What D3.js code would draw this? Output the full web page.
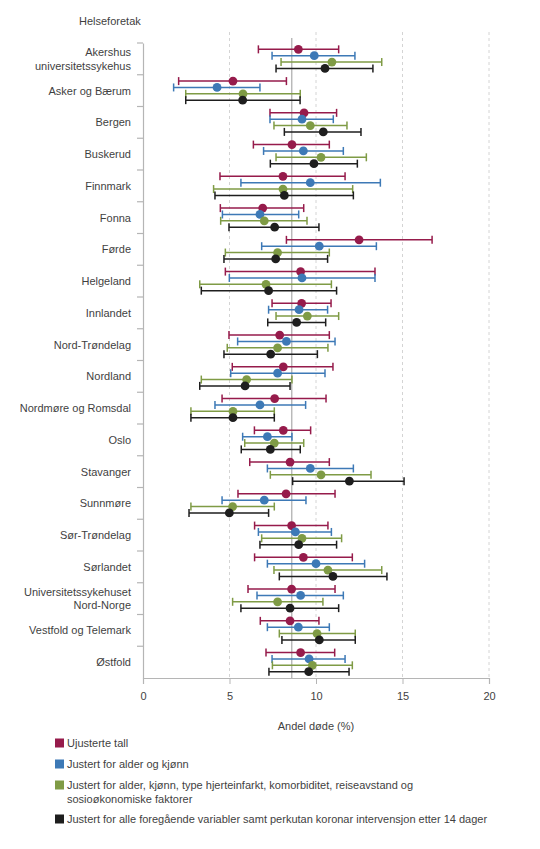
<!DOCTYPE html>
<html>
<head>
<meta charset="utf-8">
<script src="https://cdn.jsdelivr.net/npm/d3@7"></script>
<style>
  html, body { margin: 0; padding: 0; background: #fff; }
  svg { display: block; }
  text { font-family: "Liberation Sans", Arial, sans-serif; }
</style>
</head>
<body>
<script>
const categories = ["Akershus universitetssykehus","Asker og Bærum","Bergen","Buskerud","Finnmark","Fonna","Førde","Helgeland","Innlandet","Nord-Trøndelag","Nordland","Nordmøre og Romsdal","Oslo","Stavanger","Sunnmøre","Sør-Trøndelag","Sørlandet","Universitetssykehuset Nord-Norge","Vestfold og Telemark","Østfold"];
const categoryLines = [["Akershus","universitetssykehus"],["Asker og Bærum"],["Bergen"],["Buskerud"],["Finnmark"],["Fonna"],["Førde"],["Helgeland"],["Innlandet"],["Nord-Trøndelag"],["Nordland"],["Nordmøre og Romsdal"],["Oslo"],["Stavanger"],["Sunnmøre"],["Sør-Trøndelag"],["Sørlandet"],["Universitetssykehuset","Nord-Norge"],["Vestfold og Telemark"],["Østfold"]];

const seriesNames = ["Ujusterte tall","Justert for alder og kjønn","Justert for alder, kjønn, type hjerteinfarkt, komorbiditet, reiseavstand og sosioøkonomiske faktorer","Justert for alle foregående variabler samt perkutan koronar intervensjon etter 14 dager"];
const seriesColors = ["#961b4b","#3d79b6","#7f9b45","#1e1e1e"];

// Ujusterte tall
const unadjVal = [8.98,5.20,9.31,8.61,8.09,6.92,12.49,9.11,9.17,7.90,8.11,7.61,8.11,8.50,8.27,8.59,9.27,8.59,8.50,9.11];
const unadjLo  = [6.67,2.06,7.34,6.38,4.45,4.47,8.29,4.76,7.46,4.97,5.16,4.57,6.44,6.17,5.49,6.45,6.45,6.07,6.78,7.11];
const unadjHi  = [11.31,8.29,11.19,10.77,11.68,9.29,16.71,13.41,10.87,10.77,10.98,10.58,9.69,10.77,11.10,10.69,12.10,11.10,10.17,11.08];
// Justert for alder og kjønn
const ageSexVal = [9.90,4.28,9.19,9.27,9.67,6.76,10.19,9.19,9.02,8.29,7.78,6.76,7.19,9.67,7.01,8.81,10.00,9.11,8.98,9.60];
const ageSexLo  = [7.46,1.77,7.34,6.97,5.66,4.59,6.86,4.99,7.26,5.47,5.07,4.16,5.76,7.19,4.57,6.67,7.19,6.59,7.19,7.46];
const ageSexHi  = [12.25,6.76,11.00,11.58,13.72,9.00,13.49,13.41,10.67,11.10,10.52,9.40,8.61,12.16,9.42,10.89,12.81,11.58,10.77,11.68];
// Justert for alder, kjønn, type hjerteinfarkt, ...
const fullVal = [10.92,5.78,9.67,10.29,8.09,7.01,7.78,7.11,9.50,7.78,5.99,5.20,7.59,10.29,5.18,9.19,10.69,7.78,10.06,9.79];
const fullLo  = [7.98,2.47,7.57,7.69,4.08,4.49,4.76,3.28,7.69,4.87,3.37,2.77,5.88,7.36,2.77,6.86,7.57,5.18,7.88,7.48];
const fullHi  = [13.80,9.09,11.79,12.91,12.12,9.48,10.77,10.89,11.31,10.69,8.61,7.59,9.29,13.18,7.59,11.48,13.80,10.40,12.27,12.10];
// Justert for alle foregående variabler samt PCI
const pciVal = [10.52,5.76,10.42,9.88,8.17,7.61,7.67,7.26,8.88,7.38,5.90,5.20,7.36,11.93,4.99,9.00,10.98,8.50,10.19,9.58];
const pciLo  = [7.69,2.47,8.17,7.36,4.16,4.97,4.68,3.37,7.21,4.68,3.28,2.77,5.68,8.65,2.66,6.76,7.88,5.66,8.03,7.28];
const pciHi  = [13.29,9.08,12.60,12.39,12.16,10.17,10.67,11.19,10.56,10.08,8.50,7.59,9.09,15.09,7.26,11.19,14.10,11.31,12.27,11.91];

const referenceValue = 8.6;
const xTicks = [0,5,10,15,20];
const yTitle = "Helseforetak";
const xTitle = "Andel døde (%)";

const seriesVals = [unadjVal, ageSexVal, fullVal, pciVal];
const seriesLo = [unadjLo, ageSexLo, fullLo, pciLo];
const seriesHi = [unadjHi, ageSexHi, fullHi, pciHi];

const W = 540, H = 849;
const svg = d3.select("body").append("svg").attr("width", W).attr("height", H);

const x = d3.scaleLinear().domain([0, 20]).range([143, 489]);
const y = d3.scaleBand().domain(categories).range([43, 678]);
const bw = y.bandwidth();

const textCol = "#3f3f3f";
const axisCol = "#b5b5b5";

// gridlines
svg.append("g").selectAll("line").data(xTicks.filter(d => d > 0)).join("line")
  .attr("x1", d => x(d)).attr("x2", d => x(d))
  .attr("y1", 32).attr("y2", 678)
  .attr("stroke", "#d4d4d4").attr("stroke-width", 1).attr("stroke-dasharray", "3,3");

// reference line
svg.append("line")
  .attr("x1", x(referenceValue)).attr("x2", x(referenceValue))
  .attr("y1", 38).attr("y2", 678)
  .attr("stroke", "#aaaaaa").attr("stroke-width", 1.2);

// x axis
const xAxis = svg.append("g").attr("transform", "translate(0,678)")
  .call(d3.axisBottom(x).tickValues(xTicks).tickSize(6).tickPadding(8));
xAxis.select(".domain").attr("stroke", axisCol).attr("stroke-width", 1.2);
xAxis.selectAll(".tick line").attr("stroke", axisCol);
xAxis.selectAll(".tick text").attr("fill", textCol).style("font-size", "11px")
  .style("font-family", "'Liberation Sans', Arial, sans-serif");

// y axis
const yAxis = svg.append("g").attr("transform", "translate(143,0)")
  .call(d3.axisLeft(y).tickSize(0).tickFormat(""));
yAxis.select(".domain").attr("stroke", axisCol).attr("stroke-width", 1.2);
yAxis.selectAll(".tick").remove();
// ticks at band boundaries
svg.append("g").selectAll("line").data(categories).join("line")
  .attr("x1", 137).attr("x2", 143)
  .attr("y1", d => y(d)).attr("y2", d => y(d))
  .attr("stroke", axisCol).attr("stroke-width", 1.2);

// category labels
const labels = svg.append("g");
categories.forEach((c, i) => {
  const lines = categoryLines[i];
  const cy = y(c) + bw / 2;
  const lh = 13.3;
  const t = labels.append("text")
    .attr("x", 131).attr("text-anchor", "end")
    .attr("fill", textCol).style("font-size", "11px");
  lines.forEach((ln, j) => {
    t.append("tspan").attr("x", 131)
      .attr("y", cy + (j - (lines.length - 1) / 2) * lh + 4)
      .text(ln);
  });
});

// title
svg.append("text").attr("x", 79).attr("y", 25).attr("fill", textCol)
  .style("font-size", "11px").text(yTitle);

// error bars and dots
const capH = 4;
seriesVals.forEach((vals, s) => {
  const g = svg.append("g");
  const col = seriesColors[s];
  const data = categories.map((c, i) => ({c, v: vals[i], lo: seriesLo[s][i], hi: seriesHi[s][i]}));
  const yy = d => y(d.c) + bw * (s + 1) / 5;
  g.selectAll(".bar").data(data).join("line")
    .attr("x1", d => x(d.lo)).attr("x2", d => x(d.hi))
    .attr("y1", yy).attr("y2", yy)
    .attr("stroke", col).attr("stroke-width", 1.5);
  g.selectAll(".capl").data(data).join("line")
    .attr("x1", d => x(d.lo)).attr("x2", d => x(d.lo))
    .attr("y1", d => yy(d) - capH).attr("y2", d => yy(d) + capH)
    .attr("stroke", col).attr("stroke-width", 1.5);
  g.selectAll(".caph").data(data).join("line")
    .attr("x1", d => x(d.hi)).attr("x2", d => x(d.hi))
    .attr("y1", d => yy(d) - capH).attr("y2", d => yy(d) + capH)
    .attr("stroke", col).attr("stroke-width", 1.5);
  g.selectAll("circle").data(data).join("circle")
    .attr("cx", d => x(d.v)).attr("cy", yy).attr("r", 4.4)
    .attr("fill", col);
});

// x title
svg.append("text").attr("x", (x(0) + x(20)) / 2).attr("y", 730)
  .attr("text-anchor", "middle").attr("fill", textCol)
  .style("font-size", "11px").text(xTitle);

// legend
const legendRows = [
  {lines: ["Ujusterte tall"], y: 743},
  {lines: ["Justert for alder og kjønn"], y: 764},
  {lines: ["Justert for alder, kjønn, type hjerteinfarkt, komorbiditet, reiseavstand og", "sosioøkonomiske faktorer"], y: 785},
  {lines: ["Justert for alle foregående variabler samt perkutan koronar intervensjon etter 14 dager"], y: 819}
];
const lg = svg.append("g");
legendRows.forEach((r, i) => {
  lg.append("rect").attr("x", 55).attr("y", r.y - 4.5).attr("width", 9).attr("height", 9)
    .attr("fill", seriesColors[i]);
  const t = lg.append("text").attr("fill", textCol).style("font-size", "11px");
  r.lines.forEach((ln, j) => {
    t.append("tspan").attr("x", 67).attr("y", r.y + 4 + j * 14).text(ln);
  });
});
</script>
</body>
</html>
